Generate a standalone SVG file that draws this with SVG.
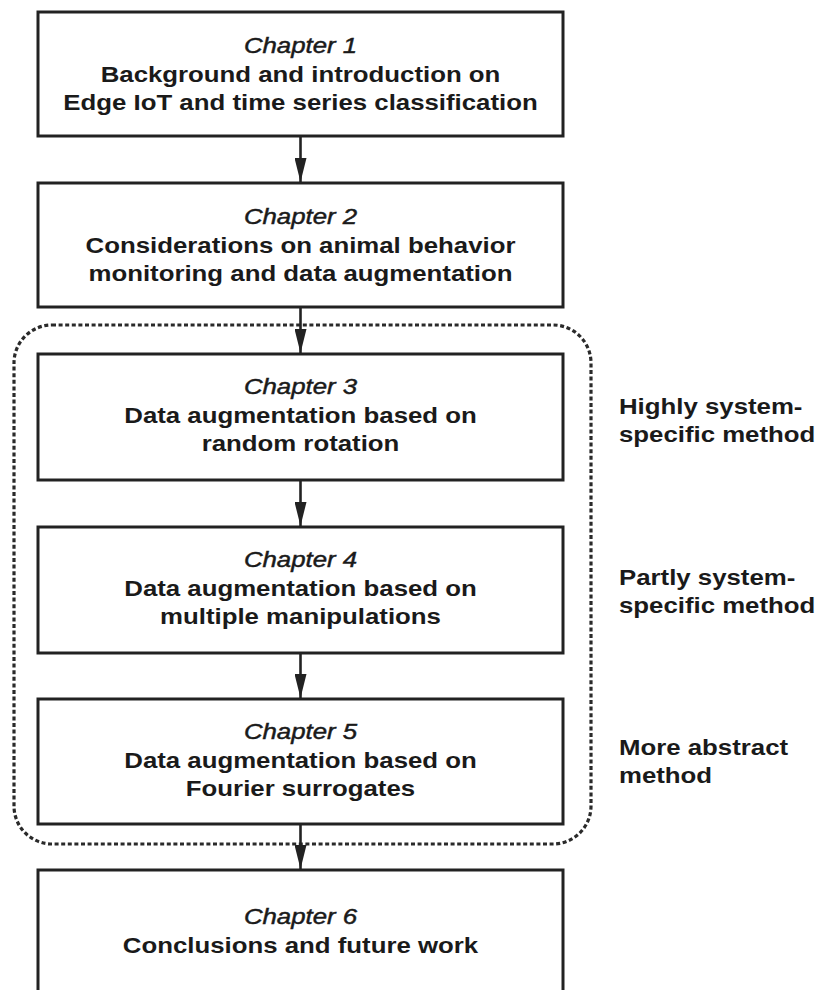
<svg xmlns="http://www.w3.org/2000/svg" width="817" height="990" viewBox="0 0 817 990">
  <style>
    .box { fill: #ffffff; stroke: #222222; stroke-width: 3; }
    .group { fill: none; stroke: #2a2a2a; stroke-width: 3.2; stroke-dasharray: 4 2.6; }
    .conn { stroke: #222222; stroke-width: 2.6; fill: none; }
    text { font-family: "Liberation Sans", Arial, sans-serif; font-size: 21.5px; fill: #1a1a1a; }
    .c { text-anchor: middle; }
    .title { font-style: italic; stroke: #1a1a1a; stroke-width: 0.45; }
    .body { font-weight: bold; }
    .side { font-weight: bold; text-anchor: start; }
  </style>
  <defs>
    <marker id="arrow" markerUnits="userSpaceOnUse" markerWidth="24" markerHeight="12" refX="24" refY="6" orient="auto">
      <path d="M0,0 L24,6 L0,12 z" fill="#222222"/>
    </marker>
  </defs>
  <rect width="817" height="990" fill="#ffffff"/>

  <!-- dashed grouping of the data augmentation chapters -->
  <rect id="augmentation-group" class="group" x="14" y="325" width="577" height="519" rx="38" ry="38"/>

  <g id="ch1">
    <rect class="box" x="38" y="12" width="525" height="124"/>
    <g transform="translate(300.5 0) scale(1.2 1)">
      <text class="c title" x="0" y="53">Chapter 1</text>
      <text class="c body" x="0" y="82">Background and introduction on</text>
      <text class="c body" x="0" y="110">Edge IoT and time series classification</text>
    </g>
  </g>

  <g id="ch2">
    <rect class="box" x="38" y="183" width="525" height="124"/>
    <g transform="translate(300.5 0) scale(1.2 1)">
      <text class="c title" x="0" y="224">Chapter 2</text>
      <text class="c body" x="0" y="253">Considerations on animal behavior</text>
      <text class="c body" x="0" y="281">monitoring and data augmentation</text>
    </g>
  </g>

  <g id="ch3">
    <rect class="box" x="38" y="354" width="525" height="126"/>
    <g transform="translate(300.5 0) scale(1.2 1)">
      <text class="c title" x="0" y="394">Chapter 3</text>
      <text class="c body" x="0" y="423">Data augmentation based on</text>
      <text class="c body" x="0" y="451">random rotation</text>
    </g>
  </g>

  <g id="ch4">
    <rect class="box" x="38" y="527" width="525" height="126"/>
    <g transform="translate(300.5 0) scale(1.2 1)">
      <text class="c title" x="0" y="567">Chapter 4</text>
      <text class="c body" x="0" y="596">Data augmentation based on</text>
      <text class="c body" x="0" y="624">multiple manipulations</text>
    </g>
  </g>

  <g id="ch5">
    <rect class="box" x="38" y="699" width="525" height="125"/>
    <g transform="translate(300.5 0) scale(1.2 1)">
      <text class="c title" x="0" y="739">Chapter 5</text>
      <text class="c body" x="0" y="768">Data augmentation based on</text>
      <text class="c body" x="0" y="796">Fourier surrogates</text>
    </g>
  </g>

  <g id="ch6">
    <rect class="box" x="38" y="870" width="525" height="140"/>
    <g transform="translate(300.5 0) scale(1.2 1)">
      <text class="c title" x="0" y="924">Chapter 6</text>
      <text class="c body" x="0" y="953">Conclusions and future work</text>
    </g>
  </g>

  <!-- method labels beside the augmentation chapters -->
  <g id="label-ch3" transform="translate(619 0) scale(1.2 1)">
    <text class="side" x="0" y="414">Highly system-</text>
    <text class="side" x="0" y="442">specific method</text>
  </g>
  <g id="label-ch4" transform="translate(619 0) scale(1.2 1)">
    <text class="side" x="0" y="585">Partly system-</text>
    <text class="side" x="0" y="613">specific method</text>
  </g>
  <g id="label-ch5" transform="translate(619 0) scale(1.2 1)">
    <text class="side" x="0" y="755">More abstract</text>
    <text class="side" x="0" y="783">method</text>
  </g>

  <g id="connectors">
    <line class="conn" x1="300.5" y1="136" x2="300.5" y2="182" marker-end="url(#arrow)"/>
    <line class="conn" x1="300.5" y1="307" x2="300.5" y2="353" marker-end="url(#arrow)"/>
    <line class="conn" x1="300.5" y1="480" x2="300.5" y2="526" marker-end="url(#arrow)"/>
    <line class="conn" x1="300.5" y1="653" x2="300.5" y2="698" marker-end="url(#arrow)"/>
    <line class="conn" x1="300.5" y1="824" x2="300.5" y2="869" marker-end="url(#arrow)"/>
  </g>
</svg>
